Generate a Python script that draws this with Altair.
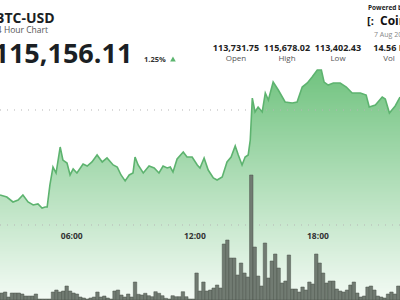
import altair as alt
import pandas as pd

# ---- price line (minutes after midnight, price in USD) ----
line_minutes = [150, 170, 188, 203, 217, 232, 247, 261, 273, 282,
                288, 296, 305, 314, 326, 334, 346, 355, 364, 375,
                393, 405, 419, 434, 449, 463, 481, 493, 504, 516,
                528, 539, 545, 554, 569, 586, 601, 615, 627, 639,
                648, 656, 668, 686, 697, 712, 727, 735, 747, 759,
                774, 785, 800, 814, 826, 838, 847, 858, 867, 876,
                882, 888, 896, 905, 917, 926, 935, 949, 964, 984,
                1005, 1019, 1034, 1049, 1063, 1078, 1090, 1098, 1110, 1125,
                1145, 1163, 1180, 1204, 1221, 1230, 1248, 1268, 1277, 1289,
                1306, 1320]
line_price = [114261, 114243, 114200, 114217, 114261, 114200, 114174, 114183, 114148, 114157,
              114157, 114348, 114504, 114452, 114678, 114565, 114539, 114435, 114487, 114452,
              114530, 114513, 114548, 114609, 114548, 114583, 114522, 114504, 114435, 114383,
              114435, 114452, 114591, 114522, 114452, 114513, 114496, 114452, 114513, 114496,
              114504, 114461, 114574, 114635, 114591, 114591, 114522, 114496, 114583, 114478,
              114409, 114391, 114417, 114548, 114591, 114687, 114609, 114522, 114591, 114609,
              114739, 115104, 114983, 115026, 114983, 115148, 115087, 115243, 115174, 115070,
              115061, 115070, 115200, 115235, 115287, 115348, 115348, 115243, 115217, 115235,
              115235, 115200, 115148, 115148, 115130, 115026, 115043, 115113, 115096, 114974,
              115035, 115113]

# ---- 10-minute volume bars (start minute, volume in million USD) ----
bar_first_minute = 150
bar_step_minutes = 10
bar_volume_musd = [49, 56, 21, 49, 49, 49, 42, 28, 28, 28, 42,
                   7, 7, 7, 7,
                   56, 70, 56, 63, 98, 63, 49,
                   42, 21, 14, 7, 14,
                   21, 56, 21,
                   28, 14, 7,
                   63, 70,
                   35, 21, 42, 21,
                   126,
                   40, 35, 47, 30, 23, 58, 47, 30, 12, 7, 30, 23, 23, 58, 23, 7, 7,
                   189, 63, 126, 63, 70, 84, 105, 84, 392, 420, 294, 294, 175, 259, 189, 161, 875, 371, 168, 98, 399,
                   154, 273, 322, 224, 119, 133, 315, 77, 77, 56, 91, 70, 126, 112, 322, 259, 189, 119, 133, 133,
                   77, 63, 56, 70, 105, 126, 49, 21, 28, 91, 98, 70, 28, 21, 14, 42, 56, 42, 98]

grid_prices = [114000, 115000]
tick_hours = [6, 12, 18]
tick_labels = ["06:00", "12:00", "18:00"]

title_text = "BTC-USD"
subtitle_text = "24 Hour Chart"
price_text = "$115,156.11"
change_text = "1.25%"
stat_values = ["113,731.75", "115,678.02", "113,402.43", "14.56 B"]
stat_labels = ["Open", "High", "Low", "Vol"]
powered_text = "Powered by"
brand_text = "CoinDesk"
date_text = "7 Aug 2025"

FONT = "Open Sans"
AREA_GREEN = "#62bd72"

line_df = pd.DataFrame({"hour": [m / 60 for m in line_minutes], "price": line_price})
bar_starts = [bar_first_minute + i * bar_step_minutes for i in range(len(bar_volume_musd))]
bar_df = pd.DataFrame({
    "h0": [m / 60 for m in bar_starts],
    "h1": [(m + bar_step_minutes) / 60 for m in bar_starts],
    "vol": bar_volume_musd,
})
grid_df = pd.DataFrame({"price": grid_prices})
tick_df = pd.DataFrame({"hour": tick_hours, "lab": tick_labels})

# white fade overlay (styling only): turns the solid area into a vertical gradient
fade_top, fade_bottom = 70, 300
fade_rows = []
for yy in range(fade_top, fade_bottom):
    t = (yy - fade_top) / (fade_bottom - fade_top)
    fade_rows.append({"y0": yy, "y1": yy + 1, "op": 0.10 + 0.83 * t})
fade_df = pd.DataFrame(fade_rows)

xscale = alt.Scale(domain=[2.5, 22.0], nice=False, zero=False)
pscale = alt.Scale(domain=[113347.8, 115956.5], nice=False, zero=False)
vscale = alt.Scale(domain=[0, 2100], nice=False)

area = alt.Chart(line_df).mark_area(color=AREA_GREEN, opacity=1).encode(
    x=alt.X("hour:Q", scale=xscale, axis=None),
    y=alt.Y("price:Q", scale=pscale, axis=None),
    y2=alt.value(300),
)

fade = alt.Chart(fade_df).mark_rect(color="white", strokeWidth=0).encode(
    x=alt.value(0), x2=alt.value(400),
    y=alt.Y("y0:Q", scale=None, axis=None), y2="y1:Q",
    opacity=alt.Opacity("op:Q", scale=None, legend=None),
)

grid = alt.Chart(grid_df).mark_rule(color="#b5b5b5", strokeWidth=1, strokeDash=[1, 6]).encode(
    y=alt.Y("price:Q", scale=pscale, axis=None)
)

line = alt.Chart(line_df).mark_line(clip=True, color="#5db36f", strokeWidth=1.6).encode(
    x=alt.X("hour:Q", scale=xscale, axis=None),
    y=alt.Y("price:Q", scale=pscale, axis=None),
)

bars = alt.Chart(bar_df).mark_bar(
    clip=True, fill="#717b72", stroke="#4a534b", strokeWidth=0.5
).encode(
    x=alt.X("h0:Q", scale=xscale, axis=None),
    x2="h1:Q",
    y=alt.Y("vol:Q", scale=vscale, axis=None),
    y2=alt.datum(0),
)

ticks = alt.Chart(tick_df).mark_text(
    font=FONT, fontSize=8.5, fontWeight="bold", color="#333333", align="center", baseline="alphabetic"
).encode(
    x=alt.X("hour:Q", scale=xscale, axis=None),
    y=alt.value(239),
    text="lab:N",
)

price_layer = alt.layer(area, fade, grid, line)
plot = alt.layer(price_layer, bars).resolve_scale(y="independent")


def label(text, x, y, size, weight="normal", color="#1b1f24", align="left"):
    return alt.Chart(pd.DataFrame({"t": [text]})).mark_text(
        font=FONT, fontSize=size, fontWeight=weight, color=color, align=align, baseline="alphabetic"
    ).encode(text="t:N", x=alt.value(x), y=alt.value(y))


texts = [
    label(title_text, -5, 23, 14, "bold"),
    label(subtitle_text, -8, 33, 8.5, "normal", "#555555"),
    label(price_text, -22, 63, 27, "bold"),
    label(change_text, 144, 62, 7.5, "bold", "#333333"),
    label(powered_text, 368, 10, 6.5, "bold", "#222222"),
    label("[:", 367, 25, 11, "bold", "#111111"),
    label(brand_text, 380, 25, 12, "bold", "#111111"),
    label(date_text, 374, 37, 7, "normal", "#888888"),
]
for i, (v, lab) in enumerate(zip(stat_values, stat_labels)):
    cx = 236 + i * 51
    texts.append(label(v, cx, 51, 9, "bold", "#222222", "center"))
    texts.append(label(lab, cx, 61, 8, "normal", "#555555", "center"))

tri = alt.Chart(pd.DataFrame({"t": [change_text]})).mark_point(
    shape="triangle-up", filled=True, size=32, color="#5cb56f", opacity=1
).encode(x=alt.value(173), y=alt.value(59))

chart = alt.layer(plot, ticks, tri, *texts).properties(
    width=400, height=300, padding=0, autosize=alt.AutoSizeParams(type="none"),
    background="white",
).configure_view(stroke=None)

chart.save("out.html", embed_options={"renderer": "svg", "actions": False})
